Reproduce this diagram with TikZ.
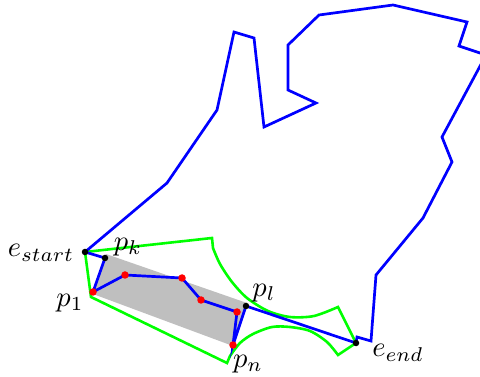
\documentclass[tikz,border=0pt]{standalone}
\begin{document}
\begin{tikzpicture}[x=1pt,y=-1pt,
  blueline/.style={draw=blue, line width=2.7pt},
  greenline/.style={draw=green, line width=2.6pt},
  reddot/.style={circle, fill=red, inner sep=0pt, minimum size=7.5pt},
  blackdot/.style={circle, fill=black, inner sep=0pt, minimum size=6.5pt},
  lbl/.style={inner sep=0pt, scale=2.85}]
\clip (0,0) rectangle (480,377);
% key points
\coordinate (es) at (85,252);
\coordinate (pk) at (105,258);
\coordinate (p1) at (93,292);
\coordinate (r2) at (125,275);
\coordinate (r3) at (182,278);
\coordinate (r4) at (201,300);
\coordinate (r5) at (237,312);
\coordinate (pn) at (233,345);
\coordinate (pl) at (246,306);
\coordinate (ee) at (356,343);
% gray band
\fill[black!25] (106,254) -- (247,303) -- (233,346) -- (93,294) -- cycle;
% green region
\draw[greenline] (es) -- (212,238) -- (213,248)
  -- plot[smooth] coordinates {(213,248) (220,264) (232,282) (247,298) (268,311) (290,317) (314,316) (338,307)}
  -- (ee) -- (338,355)
  -- plot[smooth] coordinates {(338,355) (327,342) (310,331) (290,327) (272,327) (253,334) (240,343) (230,356)}
  -- (227,363) -- (91,297) -- cycle;
% outer blue boundary
\draw[blueline] (es) -- (167,183) -- (217,110) -- (234,32) -- (254,38) -- (264,127)
  -- (316,103) -- (288,90) -- (288,45) -- (319,15) -- (393,5) -- (467,22) -- (459,46)
  -- (486,55) -- (442,137) -- (452,162) -- (423,218) -- (376,275) -- (371,341)
  -- (357,337) -- (ee);
% inner blue chain
\draw[blueline] (es) -- (pk) -- (p1) -- (r2) -- (r3) -- (r4) -- (r5) -- (pn) -- (pl) -- (ee);
% dots
\node[blackdot] (des) at (es) {};
\node[blackdot] (dpk) at (pk) {};
\node[reddot] (dp1) at (p1) {};
\node[reddot] (dr2) at (r2) {};
\node[reddot] (dr3) at (r3) {};
\node[reddot] (dr4) at (r4) {};
\node[reddot] (dr5) at (r5) {};
\node[reddot] (dpn) at (pn) {};
\node[blackdot] (dpl) at (pl) {};
\node[blackdot] (dee) at (ee) {};
% labels
\node[lbl] (les) at (41,253) {$e_{start}$};
\node[lbl] (lpk) at (128,247) {$p_k$};
\node[lbl] (lp1) at (70,303) {$p_1$};
\node[lbl] (lpl) at (264,293) {$p_l$};
\node[lbl] (lpn) at (248,364) {$p_n$};
\node[lbl] (lee) at (398,353) {$e_{end}$};
\end{tikzpicture}
\end{document}
